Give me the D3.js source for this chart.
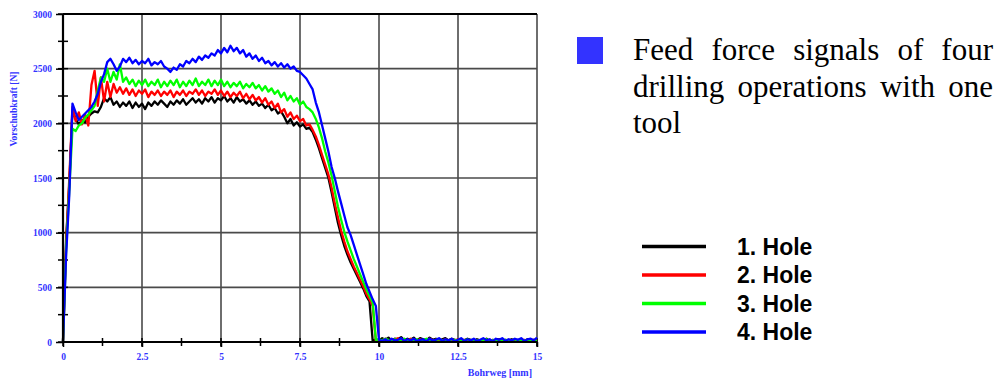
<!DOCTYPE html>
<html>
<head>
<meta charset="utf-8">
<script src="https://cdn.jsdelivr.net/npm/d3@7"></script>
<style>
  body { margin: 0; background: #fff; }
  svg { display: block; }
</style>
</head>
<body>
<svg id="chart" width="1003" height="381"></svg>
<script>
// Feed force [N] sampled every 0.1 mm of drilling path, 0 … 15 mm
const pathStep = 0.1;

const hole1 = [
  0, 950, 1450, 2120, 2040, 1990, 2030, 2010, 2060, 2090,
  2110, 2100, 2150, 2230, 2200, 2240, 2170, 2200, 2150, 2190,
  2160, 2200, 2140, 2190, 2150, 2180, 2130, 2190, 2160, 2200,
  2170, 2210, 2180, 2150, 2200, 2170, 2210, 2180, 2220, 2170,
  2200, 2230, 2190, 2220, 2180, 2230, 2200, 2240, 2190, 2230,
  2210, 2250, 2200, 2230, 2190, 2240, 2200, 2220, 2180, 2210,
  2170, 2200, 2160, 2180, 2140, 2170, 2120, 2140, 2090, 2110,
  2060, 2000, 2040, 1980, 2010, 1970, 1990, 1950, 1960, 1920,
  1850, 1770, 1680, 1590, 1500, 1370, 1230, 1090, 980, 880,
  800, 730, 670, 610, 550, 490, 420, 370, 10, 25,
  15, 35, 20, 40, 10, 30, 25, 45, 15, 30,
  20, 40, 10, 35, 25, 15, 40, 20, 30, 10,
  25, 35, 15, 30, 20, 10, 25, 15, 30, 20,
  10, 25, 15, 20, 30, 10, 20, 15, 25, 10,
  20, 15, 25, 10, 20, 15, 10, 25, 15, 20, 10
];

const hole2 = [
  0, 900, 1500, 2150, 2020, 2100, 1990, 2080, 1980, 2350,
  2480, 2160, 2420, 2200, 2380, 2240, 2360, 2280, 2330, 2270,
  2320, 2260, 2310, 2250, 2300, 2270, 2310, 2240, 2290, 2260,
  2300, 2250, 2290, 2260, 2300, 2240, 2290, 2260, 2300, 2250,
  2290, 2270, 2310, 2260, 2300, 2250, 2290, 2270, 2310, 2260,
  2300, 2250, 2290, 2240, 2280, 2250, 2290, 2230, 2270, 2220,
  2260, 2210, 2240, 2190, 2230, 2170, 2200, 2140, 2180, 2100,
  2130, 2060, 2100, 2040, 2070, 2020, 2040, 1980, 1990, 1940,
  1880, 1800, 1710, 1620, 1530, 1410, 1270, 1140, 1020, 920,
  830, 760, 690, 630, 570, 510, 440, 390, 330, 10,
  20, 15, 30, 10, 25, 20, 35, 15, 25, 10,
  30, 20, 15, 25, 10, 20, 30, 15, 20, 10,
  15, 25, 10, 20, 15, 25, 10, 20, 15, 10,
  20, 10, 15, 25, 10, 20, 15, 10, 20, 15,
  10, 20, 15, 25, 10, 15, 20, 10, 15, 20, 10
];

const hole3 = [
  0, 850, 1400, 1950, 1930, 1980, 2000, 2050, 2080, 2120,
  2160, 2300, 2420, 2380, 2500, 2380, 2470, 2400, 2540, 2380,
  2420, 2360, 2400, 2340, 2390, 2350, 2400, 2340, 2380, 2350,
  2400, 2330, 2380, 2340, 2390, 2350, 2400, 2330, 2380, 2340,
  2390, 2350, 2410, 2340, 2380, 2350, 2400, 2340, 2390, 2350,
  2400, 2340, 2380, 2330, 2370, 2340, 2380, 2320, 2360, 2330,
  2370, 2320, 2350, 2300, 2340, 2290, 2320, 2270, 2300, 2240,
  2280, 2210, 2250, 2200, 2230, 2170, 2200, 2150, 2130, 2100,
  2040, 1960, 1860, 1740, 1640, 1520, 1380, 1240, 1120, 1010,
  920, 840, 760, 690, 620, 550, 480, 420, 360, 20,
  25, 15, 30, 20, 10, 25, 15, 20, 30, 10,
  20, 15, 25, 10, 20, 30, 15, 10, 20, 25,
  15, 20, 10, 25, 15, 20, 10, 15, 25, 10,
  20, 15, 10, 20, 25, 10, 15, 20, 10, 15,
  20, 10, 15, 25, 10, 20, 15, 10, 20, 15, 10
];

const hole4 = [
  0, 800, 1350, 2180, 2100, 2030, 2060, 2090, 2120, 2150,
  2200, 2270, 2380, 2450, 2560, 2590, 2540, 2480, 2520, 2590,
  2560, 2600, 2550, 2580, 2540, 2570, 2550, 2590, 2530, 2560,
  2540, 2570, 2520, 2500, 2470, 2510, 2490, 2540, 2520, 2570,
  2550, 2590, 2560, 2610, 2580, 2620, 2600, 2640, 2620, 2670,
  2640, 2690, 2650, 2710, 2660, 2690, 2640, 2670, 2610, 2640,
  2590, 2620, 2570, 2600, 2550, 2570, 2530, 2560, 2520, 2550,
  2510, 2540, 2500, 2520, 2480, 2470, 2440, 2410, 2360, 2310,
  2190, 2100, 1980, 1860, 1740, 1600, 1500, 1380, 1270, 1160,
  1050, 980, 890, 800, 710, 620, 530, 460, 390, 330,
  20, 10, 25, 5, 30, 15, 20, 35, 10, 25,
  15, 30, 10, 20, 25, 5, 30, 15, 20, 35,
  10, 25, 15, 30, 5, 20, 35, 10, 25, 15,
  30, 10, 20, 35, 15, 25, 5, 30, 20, 35,
  10, 25, 15, 30, 20, 35, 10, 25, 30, 15, 40
];

const seriesNames  = ["1. Hole", "2. Hole", "3. Hole", "4. Hole"];
const seriesColors = ["#000000", "#ff0000", "#00ff00", "#0000ff"];
const xTickValues  = [0, 2.5, 5, 7.5, 10, 12.5, 15];
const yTickValues  = [0, 500, 1000, 1500, 2000, 2500, 3000];
const xTitle = "Bohrweg [mm]";
const yTitle = "Vorschubkraft [N]";
const captionLines = [
  ["Feed", "force", "signals", "of", "four"],
  ["drilling", "operations", "with", "one"],
  ["tool"]
];

const svg = d3.select("#chart");
const x = d3.scaleLinear().domain([0, 15]).range([63, 537]);
const y = d3.scaleLinear().domain([0, 3000]).range([342, 14]);
const labelBlue = "#3333ff";
const serif = "'Liberation Serif', 'Times New Roman', serif";

// grid
svg.append("g").selectAll("line").data(xTickValues.filter(v => v > 0)).join("line")
  .attr("x1", d => x(d)).attr("x2", d => x(d))
  .attr("y1", y(3000)).attr("y2", y(0) + 5)
  .attr("stroke", "#6e6e6e").attr("stroke-width", 2);
svg.append("g").selectAll("line").data(yTickValues.filter(v => v > 0)).join("line")
  .attr("x1", x(0)).attr("x2", x(15))
  .attr("y1", d => y(d)).attr("y2", d => y(d))
  .attr("stroke", d => d === 3000 ? "#000" : "#4a4a4a")
  .attr("stroke-width", d => d === 3000 ? 2 : 1.7);

// minor ticks crossing the axes
const yMinor = d3.range(0, 3001, 250);
const xMinor = d3.range(0, 15.01, 1.25);
svg.append("g").selectAll("line").data(yMinor).join("line")
  .attr("x1", x(0) - 5).attr("x2", x(0) + 5)
  .attr("y1", d => y(d)).attr("y2", d => y(d))
  .attr("stroke", "#000").attr("stroke-width", 1.5);
svg.append("g").selectAll("line").data(xMinor).join("line")
  .attr("x1", d => x(d)).attr("x2", d => x(d))
  .attr("y1", y(0) - 4).attr("y2", y(0) + 4)
  .attr("stroke", "#000").attr("stroke-width", 1.5);

// signals
const line = d3.line()
  .x((d, i) => x(i * pathStep))
  .y(d => y(d));
const series = [hole1, hole2, hole3, hole4];
svg.append("g").selectAll("path").data(series).join("path")
  .attr("d", line)
  .attr("fill", "none")
  .attr("stroke", (d, i) => seriesColors[i])
  .attr("stroke-width", 2.3)
  .attr("stroke-linejoin", "round");

// axes
const yAxis = svg.append("g").attr("transform", `translate(${x(0)},0)`)
  .call(d3.axisLeft(y).tickValues(yTickValues).tickFormat(d3.format("d")).tickSize(7).tickPadding(4));
const xAxis = svg.append("g").attr("transform", `translate(0,${y(0)})`)
  .call(d3.axisBottom(x).tickValues(xTickValues).tickFormat(d3.format("")).tickSize(5).tickPadding(6));
[yAxis, xAxis].forEach(a => {
  a.select(".domain").attr("stroke", "#000").attr("stroke-width", 2.2);
  a.selectAll(".tick line").attr("stroke", "#000").attr("stroke-width", 1.5);
  a.selectAll(".tick text")
    .attr("fill", labelBlue)
    .style("font-family", serif)
    .style("font-weight", "bold")
    .style("font-size", "9.5px");
});
yAxis.select(".domain").attr("d", `M0,${y(0)}V${y(3000)}`);
xAxis.select(".domain").attr("d", `M${x(0)},0H${x(15)}`);

// axis titles
svg.append("text")
  .attr("x", 532).attr("y", 376)
  .attr("text-anchor", "end")
  .attr("fill", labelBlue)
  .style("font-family", serif).style("font-weight", "bold").style("font-size", "10px")
  .text(xTitle);
svg.append("text")
  .attr("transform", "translate(17,109) rotate(-90)")
  .attr("text-anchor", "middle")
  .attr("fill", labelBlue)
  .style("font-family", serif).style("font-weight", "bold").style("font-size", "9.5px")
  .text(yTitle);

// caption with bullet, justified
svg.append("rect")
  .attr("x", 577).attr("y", 37).attr("width", 26).attr("height", 27)
  .attr("fill", "#3333ff");
const capLeft = 633, capRight = 993, capTop = 60, capLead = 36.5;
captionLines.forEach((words, li) => {
  const g = svg.append("g");
  const texts = words.map(w => g.append("text")
    .attr("y", capTop + li * capLead)
    .attr("fill", "#000")
    .style("font-family", serif).style("font-size", "31px")
    .text(w));
  const widths = texts.map(t => t.node().getComputedTextLength());
  const total = d3.sum(widths);
  const last = li === captionLines.length - 1;
  const gap = (!last && words.length > 1) ? (capRight - capLeft - total) / (words.length - 1) : 8;
  let cx = capLeft;
  texts.forEach((t, i) => { t.attr("x", cx); cx += widths[i] + gap; });
});

// legend
const legend = svg.append("g").selectAll("g").data(seriesNames).join("g")
  .attr("transform", (d, i) => `translate(0,${246.5 + i * 28.5})`);
legend.append("line")
  .attr("x1", 642).attr("x2", 706)
  .attr("stroke", (d, i) => seriesColors[i]).attr("stroke-width", 3.3);
legend.append("text")
  .attr("x", 737).attr("y", 8)
  .attr("fill", "#000")
  .style("font-family", "'Liberation Sans', Arial, sans-serif")
  .style("font-weight", "bold").style("font-size", "23px")
  .text(d => d);
</script>
</body>
</html>
